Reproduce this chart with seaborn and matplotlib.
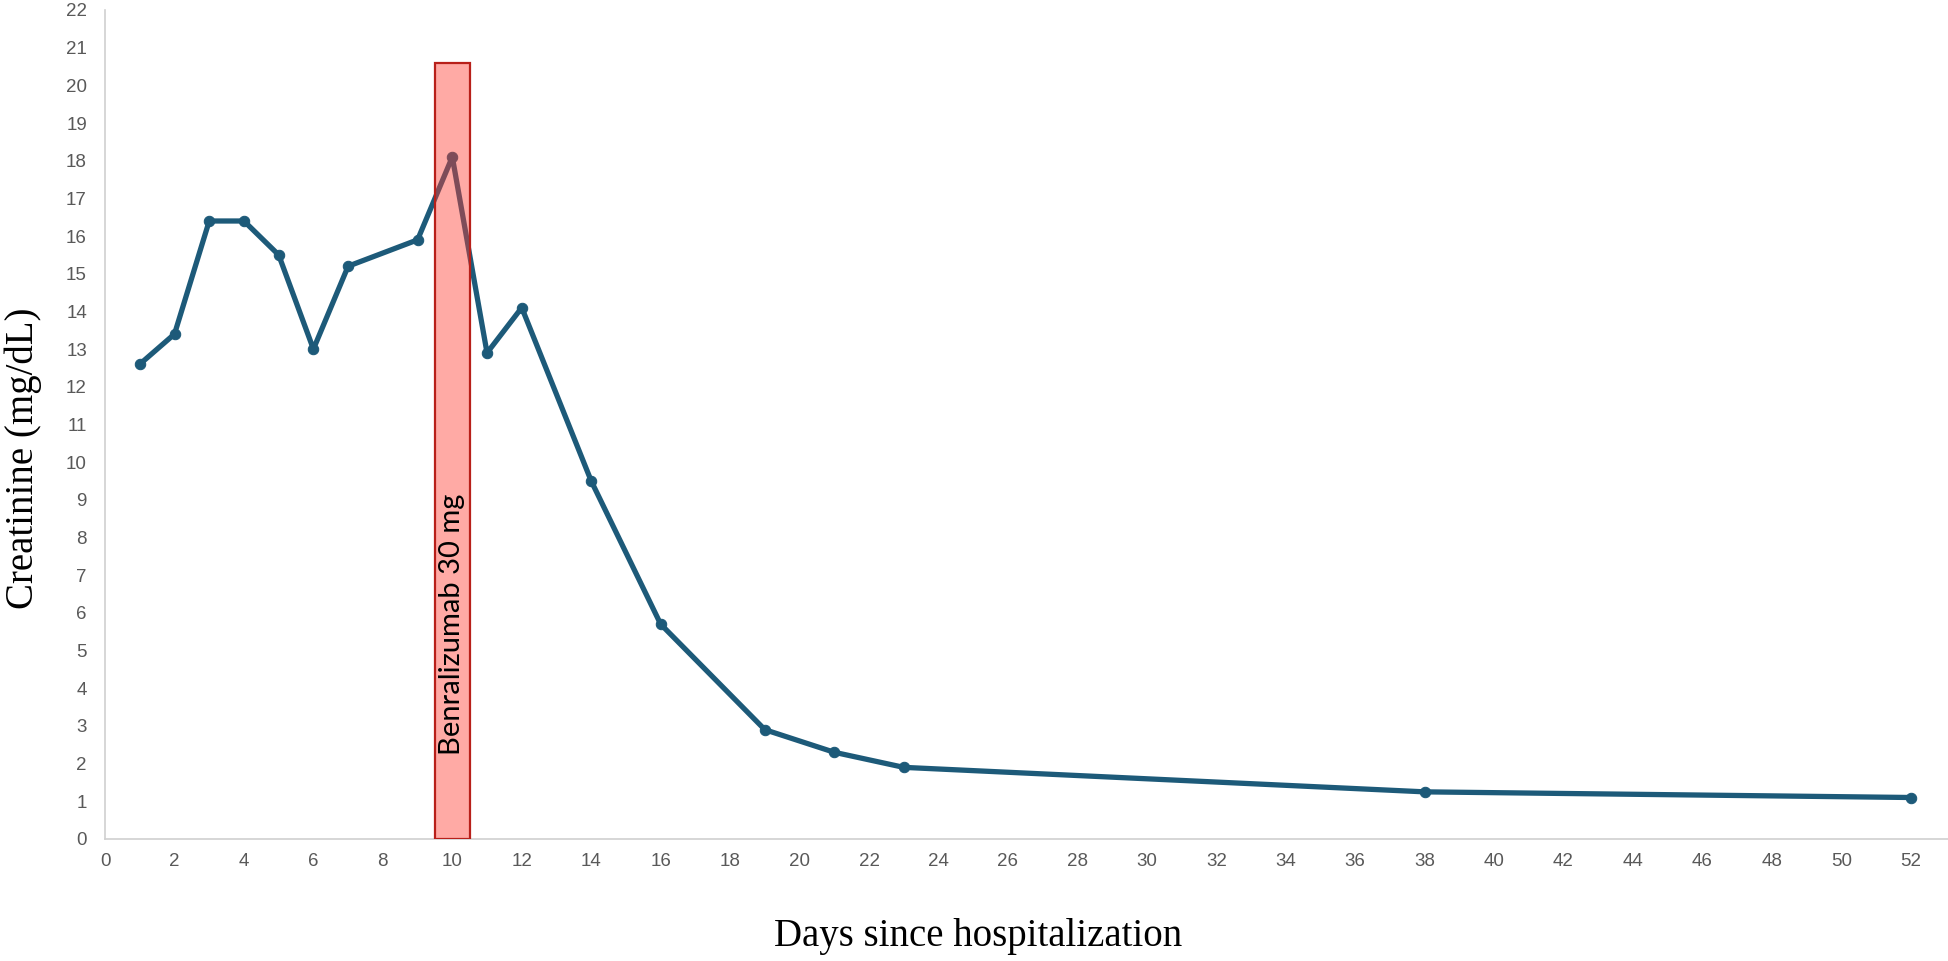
"""
Creatinine over time after hospitalization, with the benralizumab dose marked.
"""

import matplotlib
matplotlib.use("Agg")
import matplotlib.pyplot as plt
import numpy as np
import pandas as pd
import seaborn as sns

# ── Data ─────────────────────────────────────────────────────────────────────
days = [1, 2, 3, 4, 5, 6, 7, 9, 10, 11, 12, 14, 16, 19, 21, 23, 38, 52]
creatinine = [12.6, 13.4, 16.4, 16.4, 15.5, 13.0, 15.2, 15.9, 18.1,
              12.9, 14.1, 9.5, 5.7, 2.9, 2.3, 1.9, 1.25, 1.1]

dose_day = [10]
dose_bar_top = [20.6]
dose_label = "Benralizumab 30 mg"

x_ticks = list(range(0, 53, 2))
y_ticks = list(range(0, 23))

# ── Style ────────────────────────────────────────────────────────────────────
LINE = "#1D5A79"
BAR_FILL = "#FF3B2F"
BAR_EDGE = "#B8201A"
TICK_GREY = "#595959"
AXIS_GREY = "#D0D0D0"

sns.set_style("white")
plt.rcParams["font.family"] = ["Liberation Sans", "DejaVu Sans"]

df = pd.DataFrame({"day": days, "creatinine": creatinine})

fig = plt.figure(figsize=(19.49, 9.61), dpi=100)
ax = fig.add_axes([0.0539, 0.127, 0.9461, 0.8626])

sns.lineplot(
    data=df, x="day", y="creatinine", ax=ax,
    color=LINE, linewidth=3.8, marker="o", markersize=7.5,
    markeredgecolor=LINE, zorder=3,
)

# dose window drawn over the line, semi-transparent
ax.bar(
    dose_day, dose_bar_top, width=1.0, align="center",
    color=BAR_FILL, alpha=0.43, edgecolor="none", zorder=4,
)
ax.bar(
    dose_day, dose_bar_top, width=1.0, align="center",
    facecolor="none", edgecolor=BAR_EDGE, linewidth=1.6, zorder=5,
)
ax.text(
    dose_day[0], 5.7, dose_label, rotation=90, ha="center", va="center",
    fontsize=21, color="black", family=["Lato", "DejaVu Sans"], zorder=6,
)

ax.set_xlim(0, 53.1)
ax.set_ylim(0, 22)
ax.set_xticks(x_ticks)
ax.set_yticks(y_ticks)
ax.tick_params(axis="both", length=0, labelsize=13.5, labelcolor=TICK_GREY)
ax.tick_params(axis="y", pad=13)
ax.tick_params(axis="x", pad=10)

for side in ("top", "right"):
    ax.spines[side].set_visible(False)
for side in ("left", "bottom"):
    ax.spines[side].set_color(AXIS_GREY)
    ax.spines[side].set_linewidth(1.2)

serif = ["Liberation Serif", "DejaVu Serif"]
ax.set_xlabel("Days since hospitalization", fontsize=28, family=serif,
              color="black", va="center")
ax.set_ylabel("Creatinine (mg/dL)", fontsize=28, family=serif,
              color="black", va="center", ha="center")
ax.xaxis.set_label_coords(0.4734, -0.118)
ax.yaxis.set_label_coords(-0.0445, 0.4596)

fig.savefig("out.png", dpi=100)
plt.close(fig)
